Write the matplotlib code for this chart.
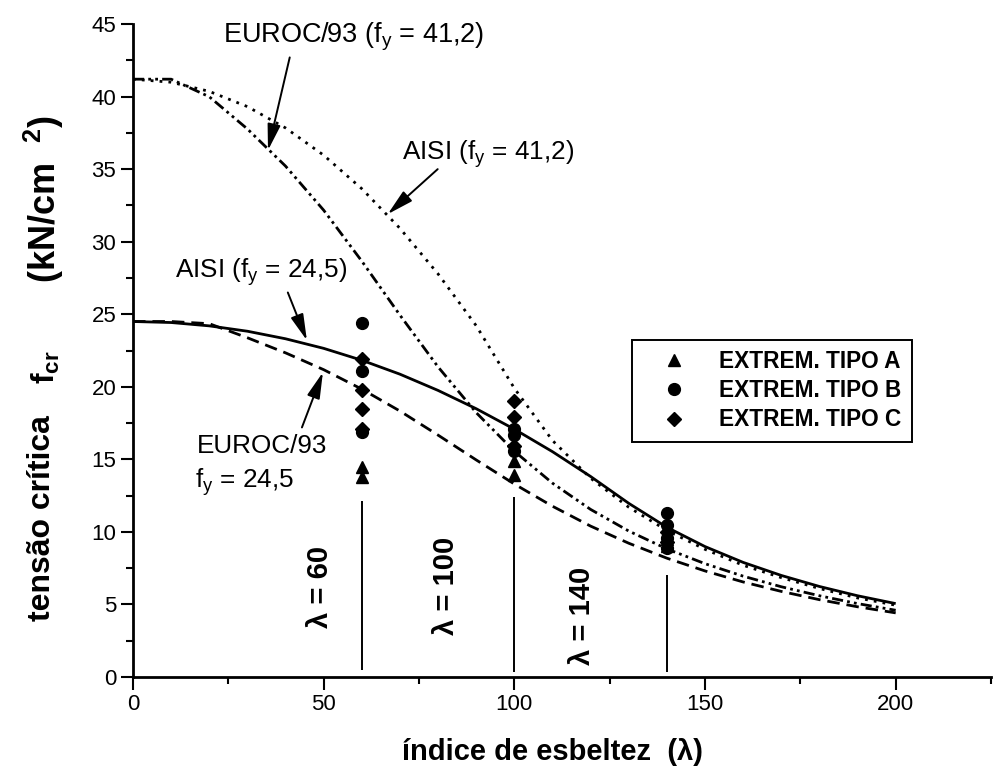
import matplotlib
matplotlib.use("Agg")
import matplotlib.pyplot as plt
from matplotlib.ticker import MultipleLocator

plt.rcParams['font.family'] = ['Liberation Sans', 'DejaVu Sans']
plt.rcParams['mathtext.fontset'] = 'custom'
plt.rcParams['mathtext.rm'] = 'Liberation Sans'
plt.rcParams['mathtext.it'] = 'Liberation Sans:italic'
plt.rcParams['mathtext.bf'] = 'Liberation Sans:bold'

# slenderness index and critical stress curves (kN/cm2)
lam = [0, 10, 20, 30, 40, 50, 60, 70, 80, 90, 100,
       110, 120, 130, 140, 150, 160, 170, 180, 190, 200]
aisi_245 = [24.5, 24.43, 24.2, 23.83, 23.31, 22.65, 21.83, 20.87, 19.75, 18.49, 17.08,
            15.53, 13.82, 11.97, 10.32, 8.99, 7.9, 7.0, 6.24, 5.6, 5.06]
euroc_245 = [24.5, 24.5, 24.35, 23.38, 22.34, 21.18, 19.84, 18.33, 16.67, 14.96, 13.3,
             11.77, 10.4, 9.22, 8.19, 7.31, 6.55, 5.9, 5.33, 4.84, 4.42]
aisi_412 = [41.2, 40.99, 40.36, 39.31, 37.84, 35.96, 33.65, 30.92, 27.78, 24.21, 19.9,
            16.3, 13.7, 11.7, 10.1, 8.8, 7.7, 6.85, 6.1, 5.45, 4.95]
euroc_412 = [41.2, 41.2, 39.99, 37.77, 35.21, 32.17, 28.66, 24.94, 21.37, 18.22, 15.56,
             13.36, 11.55, 10.06, 8.83, 7.81, 6.95, 6.22, 5.6, 5.06, 4.6]

# test results per end condition
tipo_a_x = [60, 60, 100, 100, 140, 140]
tipo_a_y = [14.5, 13.8, 14.9, 13.9, 9.5, 9.0]
tipo_b_x = [60, 60, 60, 100, 100, 100, 140, 140, 140, 140]
tipo_b_y = [24.4, 21.1, 16.9, 17.1, 16.7, 15.6, 11.3, 10.5, 9.55, 8.9]
tipo_c_x = [60, 60, 60, 60, 100, 100, 100, 140, 140]
tipo_c_y = [21.9, 19.8, 18.5, 17.1, 19.0, 17.9, 15.9, 10.0, 9.3]

ref_lam = [60, 100, 140]
ref_bottom = [0.5, 0.35, 0.35]
ref_top = [12.1, 12.4, 7.0]

fig = plt.figure(figsize=(9.94, 7.78), dpi=100)
ax = fig.add_axes([0.1338, 0.1298, 0.8632, 0.8393])

ax.plot(lam, aisi_245, color='black', lw=2.0, solid_capstyle='butt')
ax.plot(lam, euroc_245, color='black', lw=2.0, linestyle=(0, (4.5, 2.5)))
ax.plot(lam, aisi_412, color='black', lw=2.0, linestyle=(0, (1, 2.2)))
ax.plot(lam, euroc_412, color='black', lw=2.0, linestyle=(0, (4, 1.5, 1, 1.5, 1, 1.5)))

ax.plot(tipo_a_x, tipo_a_y, '^', color='black', ms=8.5, label='EXTREM. TIPO A')
ax.plot(tipo_b_x, tipo_b_y, 'o', color='black', ms=8.5, label='EXTREM. TIPO B')
ax.plot(tipo_c_x, tipo_c_y, 'D', color='black', ms=7, label='EXTREM. TIPO C')

ax.vlines(ref_lam, ref_bottom, ref_top, color='black', lw=1.4)
ax.text(49.0, 6.2, r'λ = 60', rotation=90, ha='center', va='center',
        fontsize=21, fontweight='bold')
ax.text(82.2, 6.3, r'λ = 100', rotation=90, ha='center', va='center',
        fontsize=21, fontweight='bold')
ax.text(117.8, 4.2, r'λ = 140', rotation=90, ha='center', va='center',
        fontsize=21, fontweight='bold')

# curve labels with arrows
arrow = dict(arrowstyle='-|>,head_length=0.8,head_width=0.2', color='black',
             lw=1.4, mutation_scale=20, shrinkA=0, shrinkB=0)
ax.text(23.6, 44.1, r'EUROC/93 (f$_{\mathrm{y}}$ = 41,2)', fontsize=19.5, va='center')
ax.annotate('', xy=(35.4, 36.3), xytext=(41.1, 42.7), arrowprops=arrow)
ax.text(70.5, 36.0, r'AISI (f$_{\mathrm{y}}$ = 41,2)', fontsize=18.8, va='center')
ax.annotate('', xy=(66.8, 31.9), xytext=(79.9, 35.0), arrowprops=arrow)
ax.text(11.0, 27.9, r'AISI (f$_{\mathrm{y}}$ = 24,5)', fontsize=18.8, va='center')
ax.annotate('', xy=(45.6, 23.2), xytext=(40.6, 26.5), arrowprops=arrow)
ax.text(16.8, 15.9, 'EUROC/93', fontsize=18.8, va='center')
ax.text(16.2, 13.4, r'f$_{\mathrm{y}}$ = 24,5', fontsize=18.8, va='center')
ax.annotate('', xy=(49.8, 21.0), xytext=(44.3, 17.2), arrowprops=arrow)

ax.set_xlim(0, 225)
ax.set_ylim(0, 45)
ax.xaxis.set_major_locator(MultipleLocator(50))
ax.xaxis.set_minor_locator(MultipleLocator(25))
ax.yaxis.set_major_locator(MultipleLocator(5))
ax.yaxis.set_minor_locator(MultipleLocator(2.5))
ax.tick_params(which='major', length=9, width=1.5, labelsize=16, pad=3)
ax.tick_params(which='minor', length=5, width=1.5)
for side in ['top', 'right']:
    ax.spines[side].set_visible(False)
for side in ['left', 'bottom']:
    ax.spines[side].set_linewidth(2)

# y axis title in three pieces
fig.text(42 / 994, 1 - 518 / 778, 'tensão crítica', rotation=90,
         ha='center', va='center', fontsize=23, fontweight='bold')
fig.text(46 / 994, 1 - 367 / 778, r'$\mathbf{f}_{\mathbf{cr}}$', rotation=90,
         ha='center', va='center', fontsize=23)
fig.text(44 / 994, 1 - 199 / 778, r'(kN/cm  $^{\mathbf{2}}$)', rotation=90,
         ha='center', va='center', fontsize=26, fontweight='bold')
fig.text(552 / 994, 1 - 752 / 778, 'índice de esbeltez  (λ)',
         ha='center', va='center', fontsize=21, fontweight='bold')

leg = ax.legend(loc='upper left', bbox_to_anchor=(0.5816, 0.516), borderaxespad=0,
                fancybox=False, edgecolor='black', framealpha=1,
                prop={'weight': 'bold', 'size': 16.3}, handlelength=2.8,
                handletextpad=0.6, borderpad=0.45, labelspacing=0.27)
leg.get_frame().set_linewidth(1.4)

fig.savefig('out.png', dpi=100)
